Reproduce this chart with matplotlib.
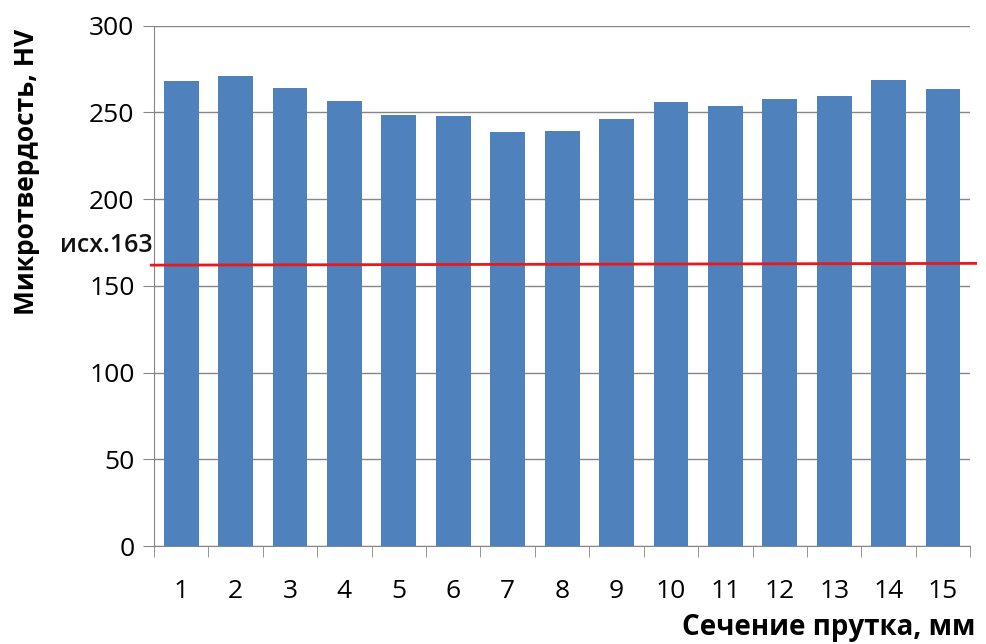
import numpy as np
import matplotlib.pyplot as plt

plt.rcParams['font.family'] = ['Open Sans', 'DejaVu Sans']

sections = list(range(1, 16))
hardness = [268, 271, 264, 256.5, 248.5, 248, 238.5, 239.5, 246.5, 256, 254, 258, 259.5, 269, 263.5]
initial = 163
initial_label = "исх.163"

width = 9.87
height = 6.44
fig = plt.figure(figsize=(width, height), dpi=100)
ax = fig.add_axes([0.156, 0.152, 0.827, 0.808])

ax.bar(sections, hardness, width=0.64, color='#4F81BD', zorder=3)

# red reference line (slightly tilted in the original)
ax.plot([0.45, 15.6], [initial - 1, initial], color='#E8191B', lw=2, zorder=4, clip_on=False)
ax.text(0.47, 166, initial_label, ha='right', va='bottom', fontsize=18, fontweight='semibold', color='#111111')

ax.set_xlim(0.5, 15.5)
ax.set_ylim(0, 300)
ax.set_yticks(np.arange(0, 301, 50))
ax.set_xticks(sections)
ax.set_xticks(np.arange(0.5, 15.6, 1), minor=True)
ax.tick_params(axis='x', which='major', length=0, pad=24, labelsize=19)
ax.tick_params(axis='x', which='minor', length=8, color='#868686', direction='out')
ax.tick_params(axis='y', length=8, color='#868686', labelsize=19, pad=6)

ax.grid(axis='y', color='#868686', lw=1, zorder=0)
for s in ['top', 'right']:
    ax.spines[s].set_visible(False)
for s in ['left', 'bottom']:
    ax.spines[s].set_color('#868686')

ax.set_ylabel("Микротвердость, HV", fontsize=19, fontweight='bold')
ax.yaxis.set_label_coords(-0.14, 0.72)
fig.text(0.988, 0.003, "Сечение прутка, мм", ha='right', va='bottom', fontsize=20, fontweight='bold')

plt.savefig('out.png', dpi=100)
